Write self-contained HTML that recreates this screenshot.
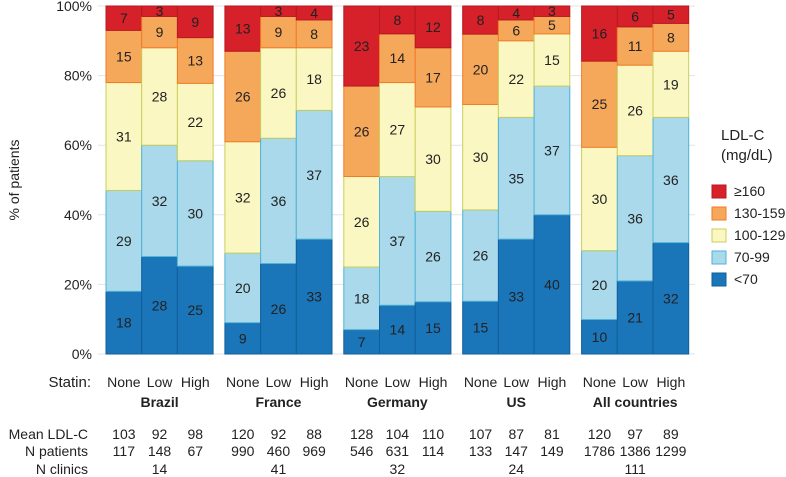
<!DOCTYPE html>
<html><head><meta charset="utf-8"><style>
body{margin:0;background:#fff}
svg{font-family:"Liberation Sans",sans-serif;display:block}
</style></head><body>
<svg id="chart" width="786" height="477" viewBox="0 0 786 477"></svg>
<script>
const groups=["Brazil","France","Germany","US","All countries"];
const statins=["None","Low","High"];
const categories=["<70","70-99","100-129","130-159","≥160"];
const lt70=[[18,28,25],[9,26,33],[7,14,15],[15,33,40],[10,21,32]];
const s70_99=[[29,32,30],[20,36,37],[18,37,26],[26,35,37],[20,36,36]];
const s100_129=[[31,28,22],[32,26,18],[26,27,30],[30,22,15],[30,26,19]];
const s130_159=[[15,9,13],[26,9,8],[26,14,17],[20,6,5],[25,11,8]];
const ge160=[[7,3,9],[13,3,4],[23,8,12],[8,4,3],[16,6,5]];
const meanLDL=[[103,92,98],[120,92,88],[128,104,110],[107,87,81],[120,97,89]];
const nPatients=[[117,148,67],[990,460,969],[546,631,114],[133,147,149],[1786,1386,1299]];
const nClinics=[14,41,32,24,111];
const yTicks=[0,20,40,60,80,100];

const series=[lt70,s70_99,s100_129,s130_159,ge160];
const fills=["#1b75b9","#a9d9eb","#fbf7c3","#f6a85a","#d6202a"];
const strokes=["#0f5f9a","#4fb3d6","#c9cf5a","#f07a28","#b51920"];
const NS="http://www.w3.org/2000/svg";
const svg=document.getElementById("chart");
const y0=354,y1=6;
const y=v=>y0-(y0-y1)*v/100;
const gx0=106,gstep=118.9,bw=35.7;
const x=(g,b)=>gx0+g*gstep+b*bw;
function el(t,a,txt){const e=document.createElementNS(NS,t);for(const k in a)e.setAttribute(k,a[k]);if(txt!==undefined)e.textContent=txt;svg.appendChild(e);return e;}
function txt(xx,yy,s,anchor,size,weight,len){const a={x:xx,y:yy,"text-anchor":anchor||"middle","font-size":size||13,"font-weight":weight||"normal",fill:"#222"};const e=el("text",a,s);return e;}

yTicks.forEach(t=>{
  const l=el("line",{x1:98,x2:695,y1:y(t),y2:y(t),stroke:"#e3e3e3","stroke-width":1});
  
  
  const tl=txt(92,y(t)+5,t+"%","end",14);
  
  
});
const yt=el("text",{x:0,y:0,transform:"translate(19,180) rotate(-90)","text-anchor":"middle","font-size":14,fill:"#222"},"% of patients");



groups.forEach((gname,g)=>{
  statins.forEach((sname,b)=>{
    let tot=0;series.forEach(s=>tot+=s[g][b]);
    let cum=0;
    series.forEach((s,k)=>{
      const v=s[g][b];
      const top=y((cum+v)/tot*100),bot=y(cum/tot*100);
      const r=el("rect",{x:x(g,b),y:top,width:bw,height:bot-top,fill:fills[k],stroke:strokes[k],"stroke-width":1});
      
      
      const lb=txt(x(g,b)+bw/2,(top+bot)/2+5,String(v),"middle",14);
      
      
      cum+=v;
    });
    const cx=x(g,b)+bw/2;
    const sl=txt(cx,387,sname,"middle",14);
    
    
    const m=txt(cx,439,String(meanLDL[g][b]),"middle",14);
    
    
    const n=txt(cx,456,String(nPatients[g][b]),"middle",14);
    
    
  });
  const gc=x(g,1)+bw/2;
  const gl=txt(gc,407,gname,"middle",14,"bold");
  
  
  const nc=txt(gc,474,String(nClinics[g]),"middle",14);
  
  
});
[["Statin:",387,91,15],["Mean LDL-C",439,88,14],["N patients",456,88,14],["N clinics",474,88,14]].forEach(r=>{
  const t=txt(r[2],r[1],r[0],"end",r[3]);
  
  
});
const lt1=txt(721,140,"LDL-C","start",15);


const lt2=txt(721,160,"(mg/dL)","start",15);


for(let k=4;k>=0;k--){
  const i=4-k, yy=185+i*22;
  const sw=el("rect",{x:712,y:yy,width:14,height:13,fill:fills[k],stroke:strokes[k]});
  
  
  const lb=txt(734,yy+11,categories[k],"start",14);
  
  
}
</script>
</body></html>
